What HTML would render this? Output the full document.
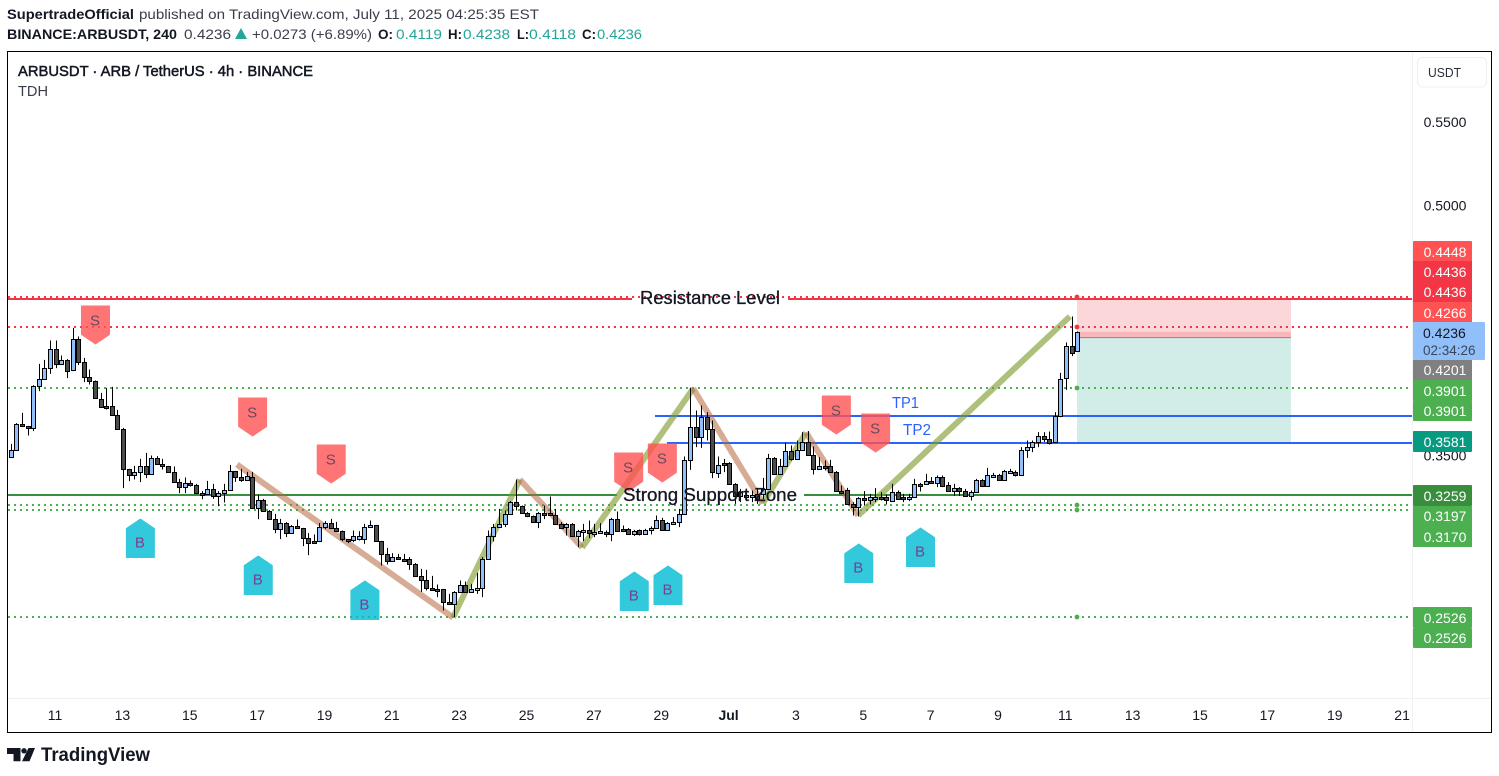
<!DOCTYPE html>
<html lang="en">
<head>
<meta charset="utf-8">
<title>ARBUSDT 4h chart</title>
<style>
html,body{margin:0;padding:0;background:#fff;width:1499px;height:776px;overflow:hidden}
svg{display:block;font-family:"Liberation Sans",sans-serif}
</style>
</head>
<body>
<svg id="chart" xmlns="http://www.w3.org/2000/svg" width="1499" height="776" viewBox="0 0 1499 776">
  <rect width="1499" height="776" fill="#fff"/>
  <g font-size="14" fill="#131722">
    <text x="7" y="19" font-weight="bold" textLength="127" lengthAdjust="spacingAndGlyphs">SupertradeOfficial</text>
    <text x="139" y="19" textLength="400" lengthAdjust="spacingAndGlyphs" fill="#3a3e4a">published on TradingView.com, July 11, 2025 04:25:35 EST</text>
    <text x="7" y="39" font-weight="bold" textLength="170" lengthAdjust="spacingAndGlyphs">BINANCE:ARBUSDT, 240</text>
    <text x="184" y="39" textLength="47" lengthAdjust="spacingAndGlyphs" fill="#3a3e4a">0.4236</text>
    <polygon points="235,39 247,39 241,28" fill="#26a69a"/>
    <text x="252" y="39" textLength="120" lengthAdjust="spacingAndGlyphs" fill="#3a3e4a">+0.0273 (+6.89%)</text>
    <text x="378" y="39" font-weight="bold" textLength="15" lengthAdjust="spacingAndGlyphs">O:</text>
    <text x="396" y="39" textLength="46" lengthAdjust="spacingAndGlyphs" fill="#22a597">0.4119</text>
    <text x="448" y="39" font-weight="bold" textLength="14" lengthAdjust="spacingAndGlyphs">H:</text>
    <text x="463" y="39" textLength="47" lengthAdjust="spacingAndGlyphs" fill="#22a597">0.4238</text>
    <text x="517" y="39" font-weight="bold" textLength="12" lengthAdjust="spacingAndGlyphs">L:</text>
    <text x="529" y="39" textLength="47" lengthAdjust="spacingAndGlyphs" fill="#22a597">0.4118</text>
    <text x="582" y="39" font-weight="bold" textLength="14" lengthAdjust="spacingAndGlyphs">C:</text>
    <text x="597" y="39" textLength="45" lengthAdjust="spacingAndGlyphs" fill="#22a597">0.4236</text>
  </g>

  <g id="plot"></g>

  <g>
    <text x="640" y="304" font-size="18" fill="#131722" stroke="#131722" stroke-width=".3" textLength="140" lengthAdjust="spacingAndGlyphs">Resistance Level</text>
    <text x="623" y="501" font-size="18" fill="#131722" stroke="#131722" stroke-width=".3" textLength="174" lengthAdjust="spacingAndGlyphs">Strong Support Zone</text>
    <text x="892" y="408" font-size="16" fill="#2962ff" textLength="27" lengthAdjust="spacingAndGlyphs">TP1</text>
    <text x="903" y="435" font-size="16" fill="#2962ff" textLength="28" lengthAdjust="spacingAndGlyphs">TP2</text>
    <text x="18" y="76" font-size="15" fill="#131722" stroke="#131722" stroke-width=".5" textLength="295" lengthAdjust="spacingAndGlyphs">ARBUSDT · ARB / TetherUS · 4h · BINANCE</text>
    <text x="18" y="96" font-size="15" fill="#3a3e4a" textLength="30" lengthAdjust="spacingAndGlyphs">TDH</text>
  </g>

  <g id="price-axis"></g>
  <g id="time-axis"></g>

  <g font-size="14" text-anchor="middle" fill="#fff">
    <g><rect x="1413" y="241" width="59" height="21" fill="#ff5252" rx="1"/><text x="1445" y="257">0.4448</text></g>
    <g><rect x="1413" y="261" width="59" height="21" fill="#f23645"/><text x="1445" y="277">0.4436</text></g>
    <g><rect x="1413" y="282" width="59" height="20" fill="#f23645"/><text x="1445" y="297">0.4436</text></g>
    <g><rect x="1413" y="302" width="59" height="21" fill="#ff5252"/><text x="1445" y="318">0.4266</text></g>
    <g><rect x="1413" y="360" width="59" height="20" fill="#808080"/><text x="1445" y="375">0.4201</text></g>
    <g><rect x="1413" y="380" width="59" height="21" fill="#4caf50"/><text x="1445" y="396">0.3901</text></g>
    <g><rect x="1413" y="401" width="59" height="20" fill="#4caf50" rx="1"/><text x="1445" y="416">0.3901</text></g>
    <g><rect x="1413" y="431" width="59" height="21" fill="#089981" rx="1"/><text x="1445" y="447">0.3581</text></g>
    <g><rect x="1413" y="485" width="59" height="21" fill="#388e3c" rx="1"/><text x="1445" y="501">0.3259</text></g>
    <g><rect x="1413" y="506" width="59" height="20" fill="#4caf50"/><text x="1445" y="521">0.3197</text></g>
    <g><rect x="1413" y="526" width="59" height="21" fill="#4caf50"/><text x="1445" y="542">0.3170</text></g>
    <g><rect x="1413" y="607" width="59" height="21" fill="#4caf50" rx="1"/><text x="1445" y="623">0.2526</text></g>
    <g><rect x="1413" y="628" width="59" height="20" fill="#4caf50" rx="1"/><text x="1445" y="643">0.2526</text></g>
    <g><rect x="1413" y="322" width="72" height="38" fill="#90bff9" rx="1"/><text x="1423" y="338" text-anchor="start" fill="#131722">0.4236</text><text x="1423" y="355" text-anchor="start" fill="#3a4658" font-size="13.5">02:34:26</text></g>
  </g>

  <g>
    <rect x="1417.5" y="57.5" width="69" height="29.5" rx="5" fill="#fff" stroke="#eeeff1"/>
    <text x="1428" y="77" font-size="13" fill="#2a2e39" textLength="33" lengthAdjust="spacingAndGlyphs">USDT</text>
  </g>

  <rect x="7.5" y="51.5" width="1484" height="681" fill="none" stroke="#000" stroke-width="1"/>

  <g>
    <path d="M7 748h13.5v13.2h-7v-7.2H7z" fill="#131722"/>
    <circle cx="24" cy="750.8" r="2.7" fill="#131722"/>
    <path d="M28.5 748h6.5l-5.5 13.2h-7.5z" fill="#131722"/>
    <text x="41" y="761" font-size="19" font-weight="bold" fill="#131722" textLength="109" lengthAdjust="spacingAndGlyphs">TradingView</text>
  </g>
</svg>

<script>
// OHLC series, price in USDT, one entry per 4h bar
const opens = [.3484,.3528,.3684,.3672,.3658,.3912,.3954,.4020,.4134,.4044,.4068,.4008,.4194,.4056,.3966,.3942,.3834,.3792,.3792,.3738,.3654,.3414,.3378,.3396,.3432,.3384,.3480,.3444,.3432,.3396,.3336,.3306,.3330,.3318,.3270,.3264,.3294,.3252,.3270,.3288,.3402,.3366,.3348,.3366,.3180,.3228,.3162,.3114,.3054,.3090,.3030,.3072,.3060,.3000,.2982,.2982,.3066,.3090,.3060,.3042,.2994,.2990,.2994,.2994,.3068,.3078,.2982,.2904,.2862,.2884,.2876,.2874,.2844,.2772,.2748,.2700,.2696,.2694,.2616,.2604,.2676,.2718,.2676,.2696,.2700,.2874,.3012,.3066,.3082,.3142,.3216,.3192,.3150,.3132,.3096,.3150,.3150,.3140,.3082,.3068,.3084,.3012,.3044,.3046,.3036,.3038,.3036,.3024,.3114,.3054,.3054,.3024,.3046,.3024,.3048,.3060,.3108,.3048,.3094,.3096,.3144,.3468,.3666,.3608,.3726,.3654,.3392,.3448,.3448,.3324,.3254,.3254,.3254,.3264,.3264,.3294,.3480,.3384,.3432,.3522,.3474,.3528,.3576,.3498,.3414,.3432,.3430,.3396,.3284,.3288,.3202,.3186,.3240,.3228,.3242,.3244,.3244,.3222,.3276,.3244,.3242,.3246,.3324,.3324,.3344,.3332,.3366,.3318,.3282,.3300,.3282,.3252,.3276,.3348,.3312,.3376,.3378,.3348,.3400,.3396,.3376,.3528,.3546,.3576,.3612,.3594,.3574,.3730,.3958,.4152,.4119];
const highs = [.3564,.3688,.3750,.3672,.3916,.4044,.4068,.4184,.4184,.4094,.4072,.4260,.4208,.4080,.4010,.3944,.3870,.3900,.3906,.3768,.3660,.3414,.3432,.3474,.3510,.3494,.3490,.3474,.3432,.3428,.3354,.3362,.3344,.3324,.3280,.3342,.3324,.3280,.3324,.3438,.3402,.3414,.3396,.3396,.3258,.3234,.3166,.3144,.3114,.3094,.3076,.3110,.3060,.3028,.3020,.3088,.3100,.3114,.3096,.3044,.2994,.3044,.3040,.3084,.3104,.3078,.2982,.2940,.2908,.2904,.2904,.2884,.2848,.2814,.2808,.2772,.2720,.2694,.2664,.2680,.2744,.2738,.2724,.2790,.2884,.3044,.3084,.3174,.3164,.3220,.3350,.3194,.3154,.3134,.3154,.3194,.3248,.3174,.3094,.3088,.3088,.3048,.3084,.3104,.3084,.3088,.3044,.3120,.3158,.3074,.3058,.3048,.3050,.3054,.3068,.3134,.3120,.3094,.3124,.3174,.3488,.3900,.3764,.3794,.3754,.3704,.3488,.3474,.3454,.3328,.3294,.3284,.3284,.3300,.3360,.3504,.3484,.3474,.3572,.3554,.3584,.3634,.3640,.3548,.3484,.3464,.3468,.3400,.3314,.3300,.3214,.3244,.3280,.3264,.3298,.3274,.3260,.3324,.3284,.3264,.3264,.3354,.3330,.3384,.3364,.3374,.3374,.3334,.3324,.3304,.3294,.3284,.3354,.3352,.3420,.3390,.3384,.3408,.3414,.3404,.3544,.3584,.3584,.3634,.3634,.3638,.3754,.3990,.4172,.4328,.4238];
const lows = [.3484,.3524,.3664,.3614,.3640,.3880,.3954,.3984,.4018,.4044,.3958,.4000,.4036,.3934,.3920,.3840,.3784,.3770,.3738,.3654,.3298,.3340,.3350,.3334,.3358,.3382,.3440,.3410,.3392,.3332,.3268,.3268,.3308,.3268,.3232,.3262,.3234,.3190,.3212,.3288,.3336,.3336,.3344,.3174,.3112,.3160,.3110,.3028,.2992,.3004,.3024,.3054,.2950,.2896,.2968,.2982,.3052,.3058,.3038,.2980,.2968,.2974,.2984,.2964,.3064,.2978,.2834,.2840,.2860,.2870,.2854,.2808,.2772,.2676,.2684,.2684,.2644,.2564,.2600,.2524,.2672,.2672,.2672,.2664,.2644,.2874,.2978,.3064,.3064,.3140,.3164,.3144,.3124,.3092,.3058,.3112,.3136,.3078,.3054,.3014,.3008,.2944,.2980,.2998,.3004,.3024,.3004,.2980,.3040,.3040,.3020,.3012,.3014,.3018,.3020,.3058,.3044,.3046,.3084,.3064,.3144,.3408,.3544,.3540,.3584,.3358,.3360,.3394,.3320,.3204,.3214,.3220,.3214,.3204,.3234,.3288,.3380,.3380,.3428,.3464,.3470,.3524,.3494,.3380,.3412,.3404,.3392,.3278,.3264,.3200,.3134,.3128,.3194,.3200,.3214,.3224,.3200,.3220,.3228,.3214,.3220,.3242,.3278,.3320,.3324,.3304,.3304,.3278,.3252,.3252,.3248,.3224,.3272,.3304,.3308,.3360,.3344,.3344,.3384,.3368,.3372,.3480,.3514,.3544,.3576,.3560,.3572,.3724,.3888,.4090,.4118];
const closes = [.3528,.3684,.3670,.3658,.3912,.3954,.4020,.4134,.4044,.4068,.4002,.4194,.4056,.3966,.3942,.3840,.3786,.3790,.3738,.3654,.3414,.3378,.3396,.3432,.3384,.3480,.3444,.3432,.3396,.3336,.3306,.3330,.3318,.3270,.3264,.3294,.3252,.3270,.3288,.3402,.3366,.3348,.3372,.3178,.3228,.3162,.3114,.3054,.3090,.3030,.3072,.3058,.3000,.2970,.2970,.3066,.3090,.3060,.3042,.2994,.2990,.3012,.3012,.3064,.3080,.2982,.2904,.2860,.2884,.2874,.2874,.2844,.2772,.2748,.2700,.2696,.2694,.2616,.2604,.2676,.2718,.2676,.2694,.2698,.2874,.3012,.3066,.3082,.3142,.3216,.3192,.3150,.3132,.3096,.3150,.3148,.3140,.3082,.3060,.3082,.3012,.3042,.3046,.3030,.3038,.3040,.3024,.3114,.3044,.3044,.3024,.3042,.3024,.3048,.3060,.3108,.3048,.3090,.3096,.3144,.3470,.3666,.3608,.3726,.3654,.3396,.3436,.3436,.3324,.3254,.3274,.3256,.3256,.3234,.3294,.3480,.3384,.3432,.3522,.3474,.3528,.3576,.3498,.3414,.3432,.3430,.3396,.3282,.3282,.3204,.3186,.3240,.3228,.3246,.3244,.3242,.3228,.3276,.3234,.3242,.3244,.3324,.3322,.3342,.3342,.3366,.3312,.3282,.3300,.3282,.3254,.3276,.3348,.3312,.3378,.3378,.3348,.3402,.3402,.3376,.3528,.3546,.3576,.3612,.3594,.3572,.3732,.3954,.4152,.4108,.4236];

// Axis labels
const priceTicks = [0.55, 0.5, 0.35];
const dateLabels = ['11','13','15','17','19','21','23','25','27','29','Jul','3','5','7','9','11','13','15','17','19','21'];

// Horizontal levels (USDT)
const resistanceLevel = 0.4436;
const supportLevel = 0.3259;
const redDottedLevels = [0.4448, 0.4266];
const greenDottedLevels = [0.3901, 0.3197, 0.3170, 0.2526];
const tp1Level = 0.3734;
const tp2Level = 0.3572;

// Zigzag pivots: bar index and price
const zigzagBars = [40.2, 78.7, 90.6, 101.7, 121.5, 133.9, 141.6, 150.9, 188.6];
const zigzagPrices = [.3440, .2522, .3350, .2942, .3896, .3206, .3632, .3134, .4328];

// Signal markers: bar index and tip price
const sellBars = [15, 43, 57, 110, 116, 147, 154];
const sellTips = [.4160, .3608, .3326, .3278, .3332, .3620, .3512];
const buyBars = [23, 44, 63, 111, 117, 151, 162];
const buyTips = [.3116, .2894, .2744, .2798, .2834, .2966, .3062];

// Position tool
const positionStartBar = 190;
const positionEndBar = 228;
const positionStop = 0.4436;
const positionUpper = 0.4236;
const positionEntry = 0.4201;
const positionTarget = 0.3575;

// Axis functions
const xAt = function (bar) { return 11.3 + 5.6125 * bar; };
const yAt = function (price) { return 298.5 + (0.4436 - price) / 0.0006; };

const NS = 'http://www.w3.org/2000/svg';
const plot = document.getElementById('plot');
const priceAxis = document.getElementById('price-axis');
const timeAxis = document.getElementById('time-axis');

function make(tag, attrs, parent) {
  const node = document.createElementNS(NS, tag);
  for (const key in attrs) node.setAttribute(key, attrs[key]);
  parent.appendChild(node);
  return node;
}

// Position zones
const zoneX = Math.floor(xAt(positionStartBar));
const zoneW = xAt(positionEndBar) - zoneX;
const stopZone = make('rect', {x: zoneX, y: yAt(positionStop), width: zoneW, height: yAt(positionEntry) - yAt(positionStop), fill: 'rgba(242,54,69,.2)'}, plot);


const upperZone = make('rect', {x: zoneX, y: yAt(positionUpper), width: zoneW, height: yAt(positionEntry) - yAt(positionUpper), fill: 'rgba(242,54,69,.2)'}, plot);


const targetZone = make('rect', {x: zoneX, y: yAt(positionEntry), width: zoneW, height: yAt(positionTarget) - yAt(positionEntry), fill: 'rgba(8,153,129,.18)'}, plot);


const entryLine = make('line', {x1: zoneX, x2: zoneX + zoneW, y1: yAt(positionEntry), y2: yAt(positionEntry), stroke: '#8a8a8a', 'stroke-width': 1}, plot);



// Dotted levels
redDottedLevels.forEach(function (level) {
  const y = Math.round(yAt(level));
  const line = make('line', {x1: 8, x2: 1408, y1: y, y2: y, stroke: '#f23645', 'stroke-width': 2, 'stroke-dasharray': '2 4'}, plot);
  
  
  const dot = make('circle', {cx: zoneX, cy: y, r: 2.4, fill: '#f23645'}, plot);
  
  
});
greenDottedLevels.forEach(function (level) {
  const y = Math.round(yAt(level));
  const line = make('line', {x1: 8, x2: 1408, y1: y, y2: y, stroke: '#4caf50', 'stroke-width': 2, 'stroke-dasharray': '2 4'}, plot);
  
  
  const dot = make('circle', {cx: zoneX, cy: y, r: 2.4, fill: '#4caf50'}, plot);
  
  
});

// Solid levels with a gap for their captions
function solidLevel(level, color, gapStart, gapEnd, name) {
  const y = Math.round(yAt(level));
  const left = make('line', {x1: 8, x2: gapStart, y1: y, y2: y, stroke: color, 'stroke-width': 2}, plot);
  
  
  const right = make('line', {x1: gapEnd, x2: 1412, y1: y, y2: y, stroke: color, 'stroke-width': 2}, plot);
  
  
}
solidLevel(resistanceLevel, '#f23645', 632, 788, 'resistance-line');
solidLevel(supportLevel, '#388e3c', 617, 804, 'support-line');

const tp1Line = make('line', {x1: 655, x2: 1412, y1: Math.round(yAt(tp1Level)), y2: Math.round(yAt(tp1Level)), stroke: '#2962ff', 'stroke-width': 2}, plot);


const tp2Line = make('line', {x1: 667, x2: 1412, y1: Math.round(yAt(tp2Level)), y2: Math.round(yAt(tp2Level)), stroke: '#2962ff', 'stroke-width': 2}, plot);



// Zigzag legs
for (let i = 0; i < zigzagBars.length - 1; i++) {
  const rising = zigzagPrices[i + 1] > zigzagPrices[i];
  const leg = make('line', {
    x1: xAt(zigzagBars[i]), y1: yAt(zigzagPrices[i]),
    x2: xAt(zigzagBars[i + 1]), y2: yAt(zigzagPrices[i + 1]),
    stroke: rising ? '#7e9a2c' : '#b5683f', 'stroke-width': 6, 'stroke-opacity': rising ? .62 : .55
  }, plot);
  
  
}

// Candles
closes.forEach(function (close, i) {
  const open = opens[i];
  const cx = Math.floor(xAt(i));
  const top = Math.round(yAt(Math.max(open, close)));
  const bottom = Math.max(Math.round(yAt(Math.min(open, close))), top + 2);
  const wick = make('line', {x1: cx + .5, x2: cx + .5, y1: yAt(highs[i]), y2: yAt(lows[i]), stroke: '#000', 'stroke-width': 1}, plot);
  
  
  const body = make('rect', {x: cx - 1.5, y: top + .5, width: 4, height: bottom - top, fill: close >= open ? '#90bff9' : '#4c4c4c', stroke: '#000', 'stroke-width': 1}, plot);
  
  
});

// Sell markers
sellBars.forEach(function (bar, i) {
  const cx = xAt(bar);
  const tip = yAt(sellTips[i]);
  const shape = make('polygon', {
    points: [[cx - 14, tip - 38.5], [cx + 14, tip - 38.5], [cx + 14, tip - 10], [cx, tip - .5], [cx - 14, tip - 10]].join(' '),
    fill: '#ff5252', stroke: '#ff5252', 'stroke-width': 1, 'stroke-linejoin': 'round', opacity: .8
  }, plot);
  
  
  const label = make('text', {x: cx - .5, y: tip - 19, 'font-size': 15, 'text-anchor': 'middle', fill: '#6a4a5e'}, plot);
  label.textContent = 'S';
  
  
});

// Buy markers
buyBars.forEach(function (bar, i) {
  const cx = xAt(bar);
  const tip = yAt(buyTips[i]);
  const shape = make('polygon', {
    points: [[cx, tip + .5], [cx + 14, tip + 10], [cx + 14, tip + 39], [cx - 14, tip + 39], [cx - 14, tip + 10]].join(' '),
    fill: '#00bcd4', stroke: '#00bcd4', 'stroke-width': 1, 'stroke-linejoin': 'round', opacity: .8
  }, plot);
  
  
  const label = make('text', {x: cx - .5, y: tip + 29, 'font-size': 15, 'text-anchor': 'middle', fill: '#7b3f8f'}, plot);
  label.textContent = 'B';
  
  
});

// Price axis
const priceSep = make('line', {x1: 1412.5, x2: 1412.5, y1: 52, y2: 732, stroke: '#f0f1f3', 'stroke-width': 1}, priceAxis);


priceTicks.forEach(function (tick) {
  const label = make('text', {x: 1445, y: yAt(tick) + 6, 'font-size': 14, 'text-anchor': 'middle', fill: '#131722'}, priceAxis);
  label.textContent = tick.toFixed(4);
  
  
});

// Time axis
const timeSep = make('line', {x1: 8, x2: 1491, y1: 698.5, y2: 698.5, stroke: '#f0f1f3', 'stroke-width': 1}, timeAxis);


dateLabels.forEach(function (text, i) {
  const isMonth = text === 'Jul';
  const label = make('text', {x: xAt(7.8 + 12 * i), y: 720, 'font-size': 14, 'text-anchor': 'middle', fill: '#131722', 'font-weight': isMonth ? 'bold' : 'normal'}, timeAxis);
  label.textContent = text;
  
  
});
</script>
</body>
</html>
